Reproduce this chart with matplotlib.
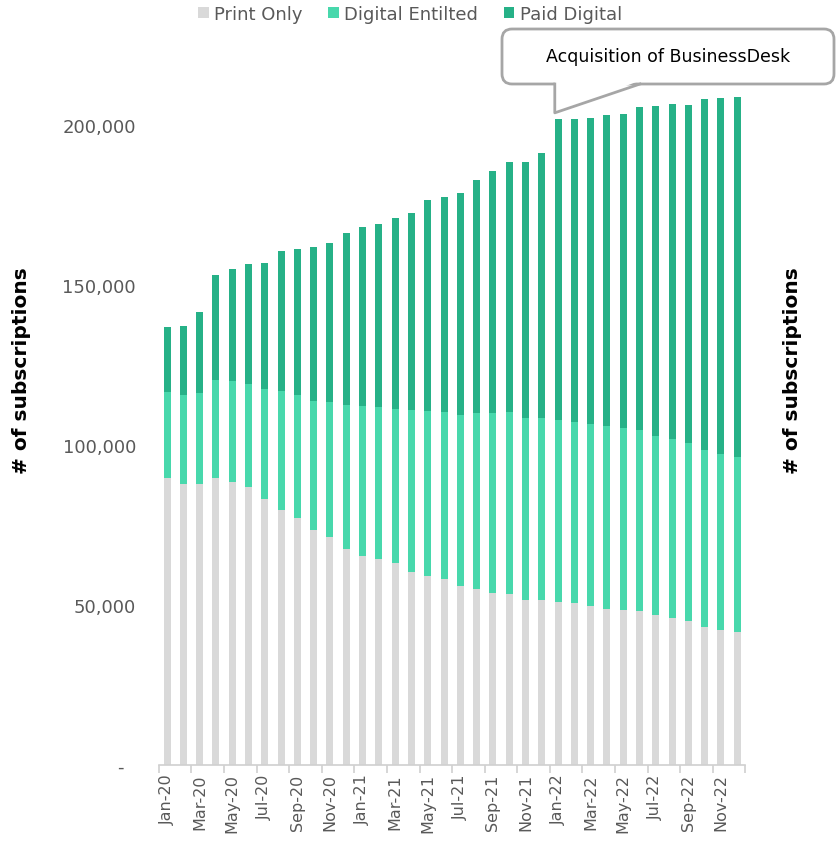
import numpy as np
import matplotlib.pyplot as plt
from matplotlib.patches import FancyBboxPatch, Polygon
from matplotlib.lines import Line2D
from matplotlib.ticker import FuncFormatter

months = [f"{m}-{y}" for y in ("20", "21", "22")
          for m in ("Jan", "Feb", "Mar", "Apr", "May", "Jun",
                    "Jul", "Aug", "Sep", "Oct", "Nov", "Dec")]

# stacked totals (thousands)
print_only = [89.7, 87.8, 87.7, 89.7, 88.4, 87.0, 83.0, 79.7, 77.2, 73.4, 71.3, 67.5,
              65.3, 64.4, 63.1, 60.3, 59.1, 58.1, 55.9, 55.1, 53.7, 53.3, 51.6, 51.6,
              50.9, 50.6, 49.7, 48.8, 48.4, 48.0, 46.8, 46.0, 45.0, 43.1, 42.2, 41.5]
print_plus_entitled = [116.6, 115.7, 116.3, 120.3, 119.9, 119.1, 117.4, 116.9, 115.6, 113.8, 113.4, 112.5,
                       112.2, 111.9, 111.3, 110.9, 110.7, 110.3, 109.4, 110.0, 110.0, 110.3, 108.4, 108.4,
                       107.8, 107.2, 106.6, 105.8, 105.2, 104.6, 102.9, 101.8, 100.6, 98.4, 97.1, 96.2]
total = [137.0, 137.3, 141.6, 153.2, 154.9, 156.5, 156.8, 160.7, 161.2, 162.0, 163.2, 166.2,
         168.0, 169.0, 171.0, 172.5, 176.7, 177.5, 178.7, 182.8, 185.5, 188.3, 188.3, 191.2,
         201.8, 201.8, 202.1, 203.0, 203.4, 205.5, 205.8, 206.7, 206.3, 208.0, 208.3, 208.6]

po = np.array(print_only) * 1000
de = (np.array(print_plus_entitled) - np.array(print_only)) * 1000
pdg = (np.array(total) - np.array(print_plus_entitled)) * 1000

C_PRINT = "#D9D9D9"
C_DIG = "#48D8AC"
C_PAID = "#26B187"
GREY_TXT = "#595959"

plt.rcParams["font.family"] = ["DejaVu Sans"]

fig = plt.figure(figsize=(8.37, 8.53), dpi=100)
ax = fig.add_axes([158.9 / 837, 87 / 853, 586.5 / 837, 704 / 853])

x = np.arange(len(months))
w = 0.43
ax.bar(x, po, w, color=C_PRINT, label="Print Only", edgecolor="none")
ax.bar(x, de, w, bottom=po, color=C_DIG, label="Digital Entilted", edgecolor="none")
ax.bar(x, pdg, w, bottom=po + de, color=C_PAID, label="Paid Digital", edgecolor="none")

ax.set_xlim(-0.5, len(months) - 0.5)
ax.set_ylim(0, 220000)

for s in ("top", "right", "left"):
    ax.spines[s].set_visible(False)
ax.spines["bottom"].set_color("#D0D0D0")
ax.spines["bottom"].set_linewidth(1.2)

ax.set_xticks(x[::2])
ax.set_xticklabels(months[::2], rotation=90, fontsize=11.5, color=GREY_TXT)
ax.set_xticks(np.arange(-0.5, len(months), 2), minor=True)
ax.tick_params(axis="x", which="major", length=0, pad=6)
ax.tick_params(axis="x", which="minor", length=6, color="#D0D0D0", width=1.2)

ax.set_yticks([0, 50000, 100000, 150000, 200000])
ax.yaxis.set_major_formatter(FuncFormatter(lambda v, p: "-  " if v == 0 else f"{int(v):,}"))
ax.tick_params(axis="y", length=0, pad=16.5, labelsize=13, labelcolor=GREY_TXT)

fig.text(22 / 837, 1 - 371 / 853, "# of subscriptions", rotation=90, fontsize=14.5,
         fontweight="bold", ha="center", va="center")
fig.text(793 / 837, 1 - 371 / 853, "# of subscriptions", rotation=90, fontsize=14.5,
         fontweight="bold", ha="center", va="center")

leg = fig.legend(loc="upper center", bbox_to_anchor=(0.49, 1.012), ncol=3, frameon=False,
                 fontsize=13, handlelength=0.6, handleheight=0.6, handletextpad=0.3,
                 columnspacing=1.4, labelcolor=GREY_TXT)

# callout box
bx0, bx1 = 502 / 837, 834 / 837
by0, by1 = 1 - 85 / 853, 1 - 30 / 853
box = FancyBboxPatch((bx0, by0), bx1 - bx0, by1 - by0,
                     boxstyle="round,pad=0,rounding_size=0.012",
                     transform=fig.transFigure, facecolor="white",
                     edgecolor="#A6A6A6", linewidth=2, zorder=5)
fig.patches.append(box)
tip_disp = ax.transData.transform((23.8, total[24] * 1000 + 2000))
tip = fig.transFigure.inverted().transform(tip_disp)
p0 = (tip[0], by0)
p1 = (640 / 837, by0)
fill = Polygon([(p0[0], by0 + 0.004), tip, (p1[0], by0 + 0.004)], closed=True,
               transform=fig.transFigure, facecolor="white", edgecolor="none", zorder=6)
fig.patches.append(fill)
fig.lines.append(Line2D([p0[0], tip[0], p1[0]], [p0[1], tip[1], p1[1]],
                        transform=fig.transFigure, color="#A6A6A6", linewidth=2, zorder=7))
fig.text((bx0 + bx1) / 2, (by0 + by1) / 2, "Acquisition of BusinessDesk", fontsize=12.5,
         ha="center", va="center", color="black", zorder=8)

fig.savefig("out.png", dpi=100)
